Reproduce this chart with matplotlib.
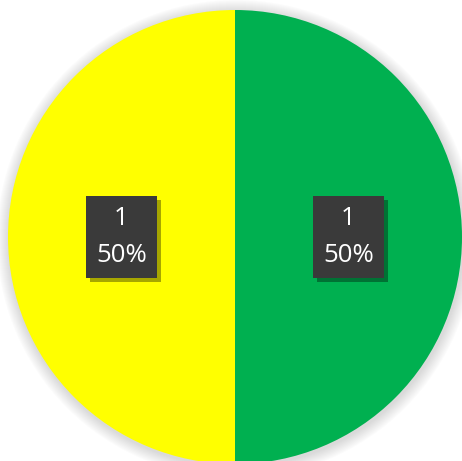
import matplotlib
matplotlib.use('Agg')
import matplotlib.pyplot as plt
import matplotlib.patheffects as pe
from matplotlib.patches import Circle

values = [1, 1]
labels = ['1\n50%', '1\n50%']
colors = ['#00B050', '#FFFF00']

fig = plt.figure(figsize=(4.62, 4.61), dpi=100)
ax = fig.add_axes([0, 0, 1, 1])

cx, cy, r = 235, 224, 227

# soft shadow around the pie
for k in range(12):
    ax.add_patch(Circle((cx + 1, cy - 2), r + 12 - k, color='#7f7f7f', alpha=0.025, lw=0, zorder=0))

wedges, texts = ax.pie(values, colors=colors, labels=labels, startangle=90, counterclock=False,
                       center=(cx, cy), radius=r, labeldistance=0.5, frame=True,
                       wedgeprops=dict(linewidth=0))
ax.set_xlim(0, 462)
ax.set_ylim(0, 461)
ax.set_aspect('equal')
ax.axis('off')

for t in texts:
    t.set(fontsize=18.5, family=['Open Sans', 'DejaVu Sans'], linespacing=1.6,
          ha='center', va='center', color='white', zorder=5)
    t.set_bbox(dict(boxstyle='square,pad=0.4', facecolor='#3a3a3a', edgecolor='none'))
    t.get_bbox_patch().set_path_effects([
        pe.SimplePatchShadow(offset=(3, -3), shadow_rgbFace='black', alpha=0.35),
        pe.Normal()])

fig.savefig('out.png', dpi=100, facecolor='white')
